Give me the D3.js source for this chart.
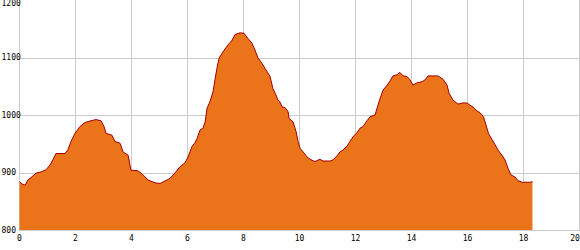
<!DOCTYPE html>
<html>
<head>
<meta charset="utf-8">
<script src="https://cdn.jsdelivr.net/npm/d3@7"></script>
<style>
  body { margin: 0; background: #fff; }
  text { font-family: "DejaVu Sans Mono", monospace; font-size: 8px; fill: #000; }
</style>
</head>
<body>
<div id="chart"></div>
<script>
// distance (km) and elevation (m)
var dist = [0.00, 0.09, 0.20, 0.30, 0.48, 0.59, 0.77, 0.95, 1.09, 1.20, 1.30, 1.63, 1.73, 1.84, 1.98,
  2.16, 2.34, 2.55, 2.73, 2.91, 3.02, 3.09, 3.30, 3.41, 3.59, 3.70, 3.88, 3.98, 4.23, 4.41, 4.59,
  4.84, 5.02, 5.27, 5.38, 5.55, 5.73, 5.91, 6.02, 6.16, 6.27, 6.34, 6.45, 6.55, 6.63, 6.70, 6.80,
  6.91, 6.98, 7.05, 7.13, 7.23, 7.34, 7.45, 7.59, 7.70, 7.88, 8.02, 8.16, 8.30, 8.41, 8.52, 8.66,
  8.77, 8.95, 9.05, 9.16, 9.23, 9.30, 9.38, 9.48, 9.59, 9.63, 9.77, 9.88, 9.95, 10.02, 10.13, 10.27,
  10.38, 10.55, 10.73, 10.84, 11.09, 11.20, 11.34, 11.45, 11.55, 11.70, 11.80, 11.91, 12.05, 12.16,
  12.27, 12.41, 12.52, 12.70, 12.77, 12.88, 12.98, 13.13, 13.23, 13.34, 13.48, 13.59, 13.70, 13.84,
  13.95, 14.05, 14.20, 14.38, 14.48, 14.59, 14.77, 14.95, 15.13, 15.27, 15.34, 15.48, 15.66, 15.84,
  15.98, 16.09, 16.20, 16.34, 16.45, 16.57, 16.64, 16.75, 16.88, 16.98, 17.09, 17.23, 17.34, 17.45,
  17.55, 17.70, 17.80, 17.95, 18.23, 18.32];
var elev = [884, 880, 878, 887, 894, 899, 901, 905, 913, 923, 933, 933, 940, 954, 968,
  980, 987, 990, 992, 990, 980, 968, 965, 954, 951, 936, 930, 904, 903, 896, 887,
  882, 881, 887, 890, 899, 910, 917, 927, 945, 952, 959, 974, 977, 988, 1012, 1023,
  1040, 1061, 1081, 1099, 1107, 1115, 1122, 1130, 1140, 1143, 1142, 1133, 1125, 1113, 1099, 1090,
  1081, 1067, 1046, 1035, 1026, 1023, 1014, 1013, 1006, 994, 988, 971, 954, 942, 936, 927,
  923, 919, 923, 920, 920, 922, 929, 936, 939, 946, 954, 962, 969, 977,
  980, 990, 997, 1000, 1012, 1029, 1043, 1052, 1059, 1068, 1070, 1074, 1068, 1067,
  1061, 1052, 1056, 1058, 1061, 1068, 1068, 1068, 1062, 1052, 1038, 1026, 1019, 1021,
  1021, 1017, 1014, 1007, 1004, 997, 986, 968, 957, 949, 939, 930, 922, 907,
  896, 892, 886, 883, 883, 884];
var xTicks = [0, 2, 4, 6, 8, 10, 12, 14, 16, 18, 20];
var yTicks = [800, 900, 1000, 1100, 1200];

var W = 580, H = 250;
var x = d3.scaleLinear().domain([0, 20]).range([19.5, 579.5]);
var y = d3.scaleLinear().domain([800, 1200]).range([230, 0]);

var data = dist.map(function(d, i) { return {d: d, e: elev[i]}; });

var svg = d3.select("#chart").append("svg")
    .attr("width", W)
    .attr("height", H);

// grid
svg.append("g").selectAll("line.v")
    .data(xTicks)
  .enter().append("line")
    .attr("x1", function(d) { return Math.round(x(d)) - 0.5; })
    .attr("x2", function(d) { return Math.round(x(d)) - 0.5; })
    .attr("y1", 0)
    .attr("y2", 230)
    .attr("stroke", "#cccccc");

svg.append("g").selectAll("line.h")
    .data(yTicks.filter(function(v) { return v < 1200; }))
  .enter().append("line")
    .attr("x1", 19)
    .attr("x2", 580)
    .attr("y1", function(d) { return Math.round(y(d)) + 0.5; })
    .attr("y2", function(d) { return Math.round(y(d)) + 0.5; })
    .attr("stroke", "#cccccc");

var area = d3.area()
    .x(function(p) { return x(p.d); })
    .y0(y(800))
    .y1(function(p) { return y(p.e); });

var line = d3.line()
    .x(function(p) { return x(p.d); })
    .y(function(p) { return y(p.e); });

svg.append("path")
    .datum(data)
    .attr("d", area)
    .attr("fill", "#eb731a");

svg.append("path")
    .datum(data)
    .attr("d", line)
    .attr("fill", "none")
    .attr("stroke", "#a00000")
    .attr("stroke-width", 1);

// axis labels (last one pulled in so it stays on the page)
svg.append("g").selectAll("text")
    .data(xTicks)
  .enter().append("text")
    .attr("x", function(d) { return Math.min(x(d), 575); })
    .attr("y", 241)
    .attr("text-anchor", "middle")
    .text(function(d) { return d; });

svg.append("g").selectAll("text")
    .data(yTicks)
  .enter().append("text")
    .attr("x", 1.5)
    .attr("y", function(d) { return Math.max(y(d), 3.5); })
    .attr("dy", "0.35em")
    .text(function(d) { return d; });
</script>
</body>
</html>
